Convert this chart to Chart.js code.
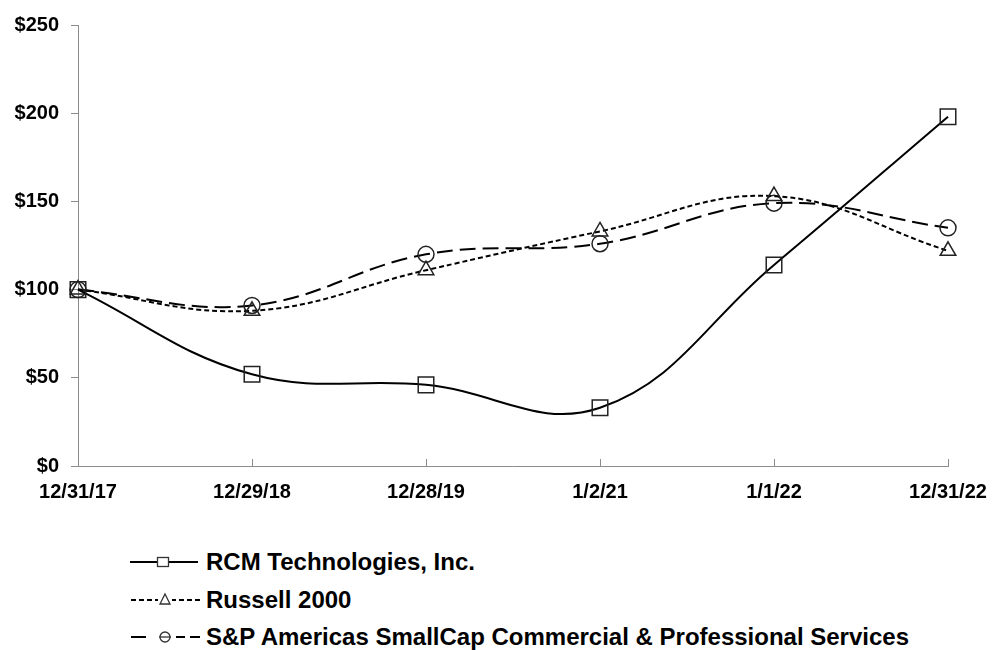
<!DOCTYPE html>
<html>
<head>
<meta charset="utf-8">
<script src="https://cdn.jsdelivr.net/npm/chart.js@4.4.1/dist/chart.umd.min.js"></script>
<style>
  html, body { margin: 0; padding: 0; background: #fff; }
  body { width: 993px; height: 650px; position: relative; overflow: hidden; font-family: "Liberation Sans", Arial, sans-serif; }
  #wrap { position: absolute; left: 0; top: 0; width: 993px; height: 520px; }
  .leg { position: absolute; left: 128px; height: 30px; display: flex; align-items: center; }
  .leg svg { width: 76px; height: 30px; flex: none; }
  .leg span { font-weight: bold; font-size: 24px; color: #000; margin-left: 2px; white-space: nowrap; line-height: 30px; }
</style>
</head>
<body>
<div id="wrap"><canvas id="c"></canvas></div>
<div id="legend"></div>
<script>
const categories = ['12/31/17', '12/29/18', '12/28/19', '1/2/21', '1/1/22', '12/31/22'];
const rcmValues = [100, 52, 46, 33, 114, 198];
const russellValues = [100, 88, 111, 133, 153, 122];
const spValues = [100, 91, 120, 126, 149, 135];
const seriesNames = ['RCM Technologies, Inc.', 'Russell 2000', 'S&P Americas SmallCap Commercial & Professional Services'];
const yTickValues = [0, 50, 100, 150, 200, 250];

const tickFont = { family: '"Liberation Sans", Arial, sans-serif', size: 20, weight: 'bold' };

const innerTicks = {
  id: 'innerTicks',
  afterDraw(chart) {
    const xs = chart.scales.x;
    const ctx = chart.ctx;
    ctx.save();
    ctx.strokeStyle = '#8c8c8c';
    ctx.lineWidth = 1;
    const yb = chart.chartArea.bottom;
    for (let i = 1; i < xs.ticks.length; i++) {
      const x = Math.round(xs.getPixelForTick(i)) + 0.5;
      ctx.beginPath();
      ctx.moveTo(x, yb);
      ctx.lineTo(x, yb - 7);
      ctx.stroke();
    }
    ctx.restore();
  }
};

const common = {
  borderColor: '#000',
  borderWidth: 2,
  tension: 0.4,
  fill: false,
  pointBackgroundColor: 'rgba(0,0,0,0)',
  pointBorderColor: '#222',
  pointBorderWidth: 1.5,
  clip: false
};

new Chart(document.getElementById('c'), {
  type: 'line',
  data: {
    labels: categories,
    datasets: [
      Object.assign({}, common, { label: seriesNames[0], data: rcmValues, pointStyle: 'rect', pointRadius: 11 }),
      Object.assign({}, common, { label: seriesNames[1], data: russellValues, pointStyle: 'triangle', pointRadius: 9, borderDash: [5, 3] }),
      Object.assign({}, common, { label: seriesNames[2], data: spValues, pointStyle: 'circle', pointRadius: 8, borderDash: [16, 7] })
    ]
  },
  options: {
    responsive: true,
    maintainAspectRatio: false,
    animation: false,
    layout: { padding: { top: 25, right: 45, left: 0, bottom: 0 } },
    plugins: { legend: { display: false }, tooltip: { enabled: false } },
    scales: {
      x: {
        offset: false,
        grid: { display: false, drawTicks: false },
        border: { display: true, color: '#8c8c8c', width: 1 },
        ticks: { color: '#000', font: tickFont, padding: 14, maxRotation: 0, autoSkip: false },
        afterFit(scale) { scale.height = 54; scale.paddingLeft = 0; scale.paddingRight = 0; }
      },
      y: {
        min: 0, max: 250,
        afterBuildTicks(scale) { scale.ticks = yTickValues.map(v => ({ value: v })); },
        grid: { drawOnChartArea: false, drawTicks: true, tickLength: 7, color: '#8c8c8c' },
        border: { display: true, color: '#8c8c8c', width: 1 },
        ticks: { color: '#000', font: tickFont, padding: 12, callback: v => '$' + v },
        afterFit(scale) { scale.width = 78; }
      }
    }
  },
  plugins: [innerTicks]
});

// Legend (HTML)
const legendRows = [
  { top: 547, svg: '<line x1="2" y1="15" x2="70" y2="15" stroke="#000" stroke-width="2"/><rect x="29.5" y="10.5" width="11" height="9" fill="#fff" stroke="#333" stroke-width="1.3"/>' },
  { top: 585, svg: '<line x1="3" y1="15" x2="72" y2="15" stroke="#000" stroke-width="2" stroke-dasharray="5,3"/><rect x="30" y="8" width="14" height="12" fill="#fff"/><polygon points="37,9 42,19 32,19" fill="#fff" stroke="#333" stroke-width="1.3"/>' },
  { top: 622, svg: '<line x1="3" y1="15" x2="18" y2="15" stroke="#000" stroke-width="2"/><line x1="48" y1="15" x2="57" y2="15" stroke="#000" stroke-width="2"/><line x1="62" y1="15" x2="72" y2="15" stroke="#000" stroke-width="2"/><circle cx="37" cy="15" r="5" fill="#fff" stroke="#333" stroke-width="1.3"/><line x1="31" y1="15" x2="43" y2="15" stroke="#333" stroke-width="1.3"/>' }
];
const legendEl = document.getElementById('legend');
legendRows.forEach((r, i) => {
  const d = document.createElement('div');
  d.className = 'leg';
  d.style.top = r.top + 'px';
  d.innerHTML = '<svg viewBox="0 0 76 30">' + r.svg + '</svg><span></span>';
  d.querySelector('span').textContent = seriesNames[i];
  legendEl.appendChild(d);
});
</script>
</body>
</html>
